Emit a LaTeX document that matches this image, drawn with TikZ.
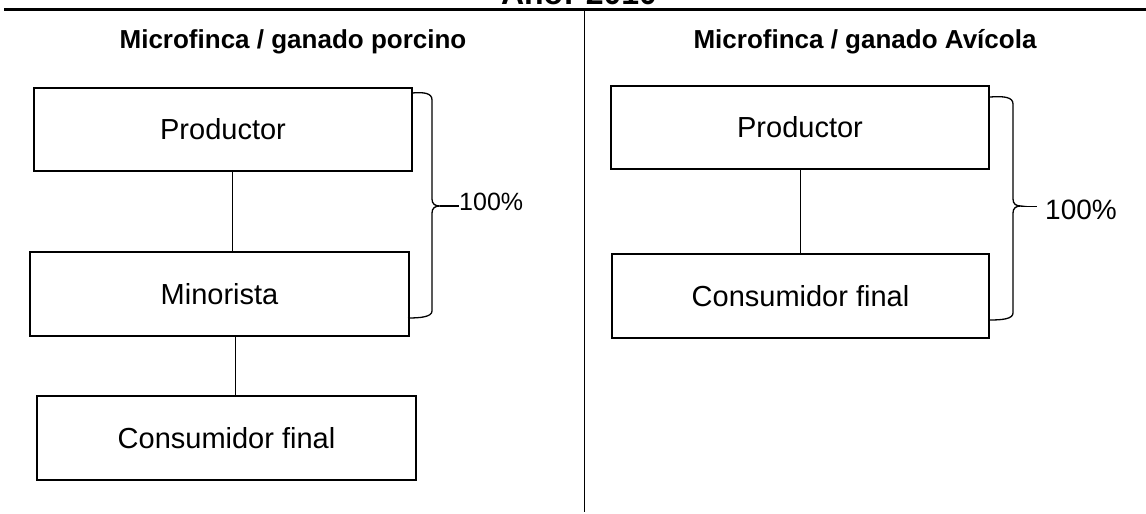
\documentclass[tikz,border=0pt]{standalone}
\usepackage{fontspec}
\setmainfont{Liberation Sans}
\usetikzlibrary{calc}
\begin{document}
\begin{tikzpicture}[x=1pt,y=-1pt,
  boxnode/.style={draw=black,line width=1.4pt,inner sep=0pt,font=\fontsize{29}{34}\selectfont},
  titlenode/.style={anchor=base,inner sep=0pt,font=\fontsize{26}{30}\selectfont\bfseries},
  link/.style={draw=black,line width=1pt},
  bracepath/.style={draw=black,line width=1.3pt},
  ticklink/.style={draw=black,line width=2pt},
  pctnode/.style={anchor=west,inner sep=0pt}]
\useasboundingbox (0,0) rectangle (1146,514);
\clip (0,0) rectangle (1146,514);
% header
\node[titlenode,font=\fontsize{32}{36}\selectfont\bfseries] (anio) at (579,4.5) {Año: 2010};
\coordinate (hl) at (4,9.5);
\coordinate (hr) at (1146,9.5);
\draw[line width=2.2pt] (hl) -- (hr);
\coordinate (vt) at (584.5,9.5);
\coordinate (vb) at (584.5,512);
\draw[line width=1.5pt] (vt) -- (vb);
% titles
\node[titlenode] (t1) at (293,48) {Microfinca / ganado porcino};
\node[titlenode] (t2) at (865,48) {Microfinca / ganado Avícola};
% left boxes
\node[boxnode,minimum width=378pt,minimum height=83pt] (p1) at (223,129.5) {Productor};
\node[boxnode,minimum width=379pt,minimum height=84pt] (m1) at (219.5,294) {Minorista};
\node[boxnode,minimum width=379pt,minimum height=84pt] (c1) at (226.5,438) {Consumidor final};
% right boxes
\node[boxnode,minimum width=378pt,minimum height=83pt] (p2) at (800,127.5) {Productor};
\node[boxnode,minimum width=377pt,minimum height=84pt] (c2) at (800.5,296) {Consumidor final};
% connectors
\coordinate (x1) at (232,0);
\coordinate (x2) at (235,0);
\coordinate (x3) at (800,0);
\draw[link] (p1.south -| x1) -- (m1.north -| x1);
\draw[link] (m1.south -| x2) -- (c1.north -| x2);
\draw[link] (p2.south -| x3) -- (c2.north -| x3);
% left brace
\coordinate (b1s) at (412,93);
\coordinate (b1t) at (440,206);
\coordinate (b1e) at (408,318);
\draw[bracepath] (b1s) .. controls (424,92) and (432,93) .. (432,100)
  -- (432,199) .. controls (432,204) and (435,206) .. (b1t)
  .. controls (435,206) and (432,208) .. (432,213)
  -- (432,311) .. controls (432,317) and (420,318) .. (b1e);
\node[pctnode,font=\fontsize{25}{30}\selectfont] (pct1) at (459,202) {100\%};
\draw[ticklink] (b1t) -- (pct1.west |- b1t);
% right brace
\coordinate (b2s) at (990,97);
\coordinate (b2t) at (1021,206);
\coordinate (b2e) at (990,320);
\draw[bracepath] (b2s) .. controls (1004,96) and (1013,97) .. (1013,104)
  -- (1013,199) .. controls (1013,204) and (1016,206) .. (b2t)
  .. controls (1016,206) and (1013,208) .. (1013,213)
  -- (1013,313) .. controls (1013,319) and (1002,320) .. (b2e);
\node[pctnode,font=\fontsize{28}{32}\selectfont] (pct2) at (1045,210) {100\%};
\draw[link] (b2t) -- ($(pct2.west |- b2t)+(-8,0)$);
\end{tikzpicture}
\end{document}
